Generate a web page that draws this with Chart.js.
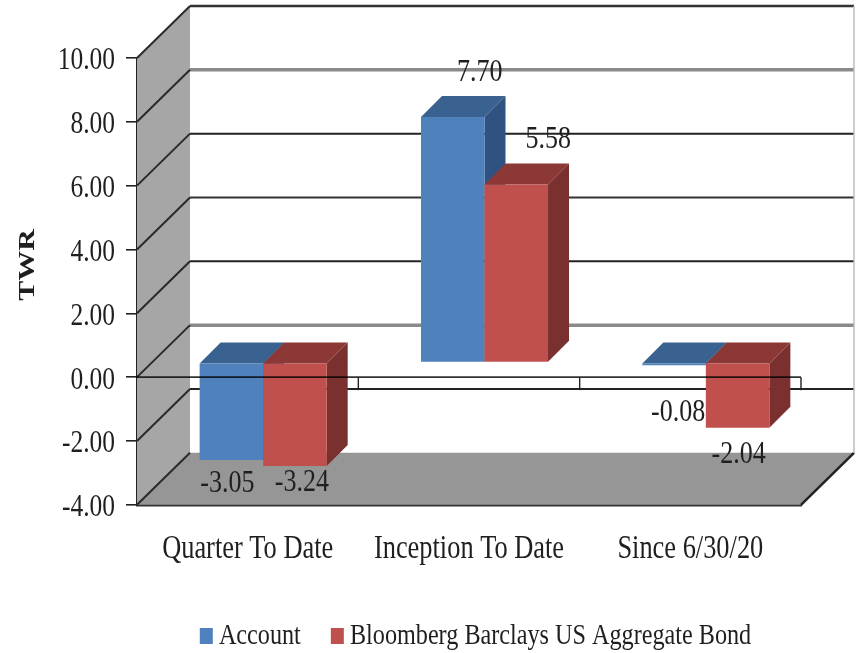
<!DOCTYPE html>
<html>
<head>
<meta charset="utf-8">
<style>
html,body{margin:0;padding:0;background:#fff;overflow:hidden}
canvas{display:block;filter:blur(0.55px)}
</style>
<script src="https://cdn.jsdelivr.net/npm/chart.js@4"></script>
</head>
<body>
<canvas id="c" width="856" height="653"></canvas>
<script>
const categories = ["Quarter To Date", "Inception To Date", "Since 6/30/20"];
const accountValues = [-3.05, 7.70, -0.08];
const benchmarkValues = [-3.24, 5.58, -2.04];
const seriesNames = ["Account", "Bloomberg Barclays US Aggregate Bond"];
const yAxisTitle = "TWR";

const FONT = '"Liberation Serif","Times New Roman",serif';
const INK = '#1f1f1f';
const TEXT_STRETCH = 1.25;           // the picture's text is taller than it is wide
const Y_LABEL_DROP = 3;              // tick labels of the value axis sit a little lower
const BACK = {dx: 53, dy: -52};      // depth of the whole chart box
const BAR_SHIFT = {dx: 15.5, dy: -14.5}; // bars stand inside the box
const BAR_DEPTH = 21;
const PALETTE = [
  {front: '#4F81BD', top: '#3A6291', side: '#2F5280'},
  {front: '#C0504D', top: '#8C3836', side: '#7A302E'}
];
// nudges of value labels, per dataset / category
const LABEL_NUDGE = [
  [[-4, 23], [27, -44], [4, 47]],
  [[7, 16], [32, -45], [1, 27]]
];
const BACK_GRID = {10:['#333',2.5], 8:['#8a8a8a',3.5], 6:['#222',2], 4:['#333',2], 2:['#222',2], 0:['#8a8a8a',3.5], '-2':['#222',2], '-4':['#999',1]};
const LEGEND_SHIFT = {dx: 78, dy: 11};

const cv = document.getElementById('c');
const c2d = cv.getContext('2d');
// stretch every text vertically on screen around its own anchor
c2d.fillText = function (t, x, y, mw) {
  const m = this.getTransform();
  if (this.textAlign === 'right') y += Y_LABEL_DROP;
  const p = m.transformPoint(new DOMPoint(x, y));
  const s = new DOMMatrix().translate(0, p.y).scale(1, TEXT_STRETCH).translate(0, -p.y);
  this.setTransform(s.multiply(m));
  if (mw === undefined) CanvasRenderingContext2D.prototype.fillText.call(this, t, x, y);
  else CanvasRenderingContext2D.prototype.fillText.call(this, t, x, y, mw);
  this.setTransform(m);
};

function poly(ctx, pts, fill) {
  ctx.beginPath();
  pts.forEach((p, i) => i ? ctx.lineTo(p[0], p[1]) : ctx.moveTo(p[0], p[1]));
  ctx.closePath();
  ctx.fillStyle = fill;
  ctx.fill();
}
function seg(ctx, x1, y1, x2, y2, color, w) {
  ctx.beginPath(); ctx.moveTo(x1, y1); ctx.lineTo(x2, y2);
  ctx.strokeStyle = color; ctx.lineWidth = w; ctx.stroke();
}
// side and top faces, then the library's own bar elements, shifted into the box
function drawSeries(chart, index) {
  const ctx = chart.ctx;
  const meta = chart.getDatasetMeta(index);
  const p = PALETTE[index];
  const d = BAR_DEPTH;
  ctx.save();
  ctx.translate(BAR_SHIFT.dx, BAR_SHIFT.dy);
  meta.data.forEach(el => {
    const w = el.width / 2;
    const l = el.x - w, r = el.x + w;
    const upper = Math.min(el.y, el.base), lower = Math.max(el.y, el.base);
    poly(ctx, [[r,upper],[r+d,upper-d],[r+d,lower-d],[r,lower]], p.side);
    poly(ctx, [[l,upper],[l+d,upper-d],[r+d,upper-d],[r,upper]], p.top);
  });
  meta.controller.draw();
  ctx.restore();
}

const box3d = {
  id: 'box3d',
  afterLayout(chart) {
    const lg = chart.legend;
    lg.left += LEGEND_SHIFT.dx; lg.right += LEGEND_SHIFT.dx;
    lg.top += LEGEND_SHIFT.dy; lg.bottom += LEGEND_SHIFT.dy;
  },
  beforeDatasetsDraw(chart) {
    const {ctx, chartArea: a, scales: {y}} = chart;
    const dx = BACK.dx, dy = BACK.dy;
    ctx.save();
    poly(ctx, [[a.left,a.top],[a.left+dx,a.top+dy],[a.left+dx,a.bottom+dy],[a.left,a.bottom]], '#A6A6A6');
    poly(ctx, [[a.left,a.bottom],[a.right,a.bottom],[a.right+dx,a.bottom+dy],[a.left+dx,a.bottom+dy]], '#969696');
    y.ticks.forEach(t => {
      const py = y.getPixelForValue(t.value);
      const s = BACK_GRID[t.value] || ['#222', 2];
      if (t.value > y.min) seg(ctx, a.left+dx, py+dy, a.right+dx, py+dy, s[0], s[1]);
      seg(ctx, a.left, py, a.left+dx, py+dy, '#2a2a2a', 2);
    });
    seg(ctx, a.right, a.bottom, a.right+dx, a.bottom+dy, '#222', 2.5);
    seg(ctx, a.right+dx, a.top+dy, a.right+dx, a.bottom+dy, '#bdbdbd', 1.5);
    ctx.restore();
    // the series are painted here, first to last, so later ones overlap earlier ones
    chart.data.datasets.forEach((ds, i) => drawSeries(chart, i));
  },
  beforeDatasetDraw() {
    return false;
  },
  afterDatasetsDraw(chart) {
    const {ctx, chartArea: a, scales: {y}} = chart;
    const zero = y.getPixelForValue(0);
    ctx.save();
    seg(ctx, a.left-1, zero, a.right, zero, 'rgba(0,0,0,0.8)', 1.8);
    const step = (a.right - a.left) / categories.length;
    for (let i = 1; i <= categories.length; i++) {
      seg(ctx, a.left + step*i, zero, a.left + step*i, zero + 13, '#222', 1.4);
    }
    ctx.font = '26px ' + FONT;
    ctx.fillStyle = INK;
    ctx.textAlign = 'center';
    ctx.textBaseline = 'middle';
    chart.data.datasets.forEach((ds, di) => {
      chart.getDatasetMeta(di).data.forEach((el, i) => {
        const n = LABEL_NUDGE[di][i];
        ctx.fillText(ds.data[i].toFixed(2), el.x + BAR_SHIFT.dx + n[0], el.y + BAR_SHIFT.dy + n[1]);
      });
    });
    ctx.translate(28, 265);
    ctx.rotate(-Math.PI/2);
    ctx.font = 'bold 24px ' + FONT;
    ctx.fillText(yAxisTitle, 0, 0);
    ctx.restore();
  }
};

new Chart(cv, {
  type: 'bar',
  data: {
    labels: categories,
    datasets: [
      {label: seriesNames[0], data: accountValues, backgroundColor: PALETTE[0].front, categoryPercentage: 0.574, barPercentage: 1},
      {label: seriesNames[1], data: benchmarkValues, backgroundColor: PALETTE[1].front, categoryPercentage: 0.574, barPercentage: 1}
    ]
  },
  options: {
    responsive: false,
    animation: false,
    layout: {padding: {top: 58, right: 55, left: 0, bottom: 6}},
    plugins: {
      tooltip: {enabled: false},
      legend: {
        position: 'bottom',
        labels: {
          boxWidth: 1, boxHeight: 4, padding: 36, color: INK,
          font: {family: FONT, size: 24.2},
          generateLabels(chart) {
            return Chart.defaults.plugins.legend.labels.generateLabels(chart).map(it => {
              it.lineWidth = 12; it.strokeStyle = it.fillStyle; it.lineJoin = 'miter';
              return it;
            });
          }
        }
      }
    },
    scales: {
      x: {
        grid: {display: false},
        border: {display: true, color: '#333', width: 2.5},
        ticks: {color: INK, font: {family: FONT, size: 26.4}, padding: 21, maxRotation: 0},
        afterFit(s) { s.height = 72; }
      },
      y: {
        min: -4, max: 10,
        grid: {drawOnChartArea: false, tickLength: 11, color: '#222', lineWidth: 1.6},
        border: {display: true, color: '#222', width: 2},
        ticks: {stepSize: 2, color: INK, font: {family: FONT, size: 25.5}, padding: 11, callback: v => v.toFixed(2)},
        afterFit(s) { s.width = 137; }
      }
    }
  },
  plugins: [box3d]
});
</script>
</body>
</html>
